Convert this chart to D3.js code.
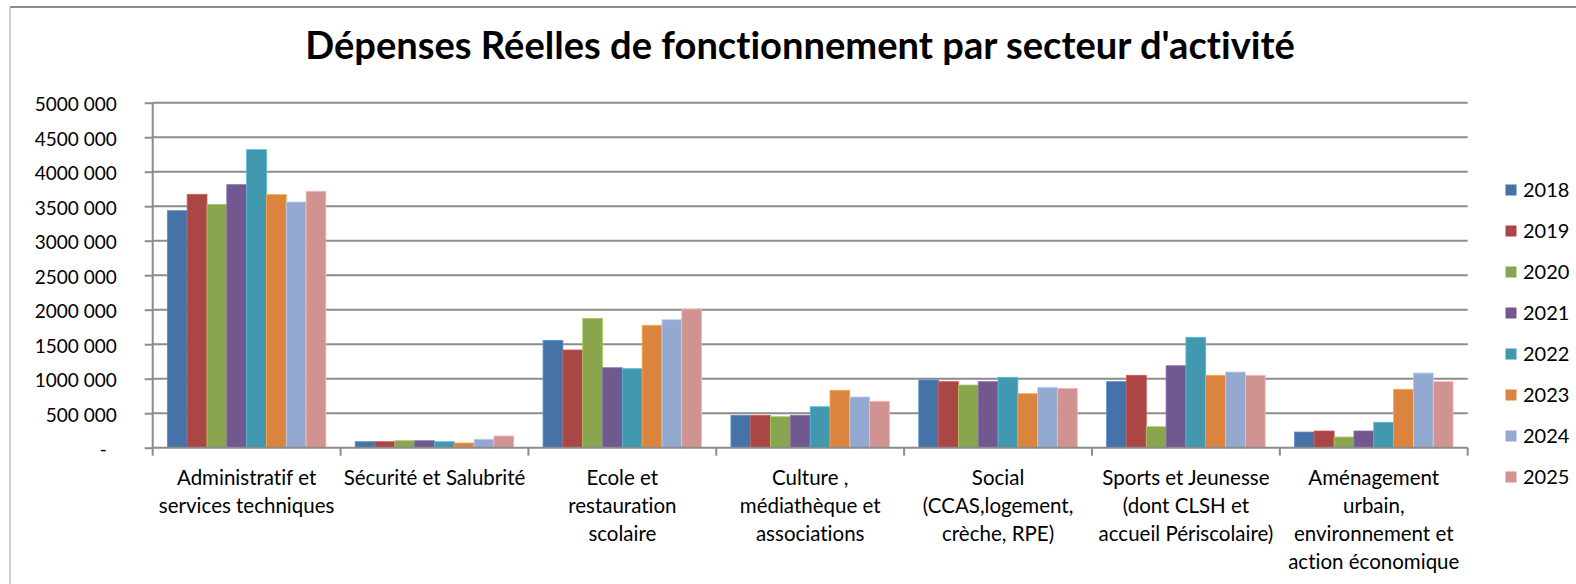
<!DOCTYPE html>
<html><head><meta charset="utf-8">
<script src="https://cdn.jsdelivr.net/npm/d3@7"></script>
<style>
html,body{margin:0;padding:0;background:#fff;}
svg{display:block;font-family:Lato,"Noto Sans",sans-serif;font-variant-ligatures:none;font-feature-settings:"liga" 0,"clig" 0;}
</style></head>
<body>
<svg id="chart" width="1576" height="584"></svg>
<script>
const title = "Dépenses Réelles de fonctionnement par secteur d'activité";
const categories = [
  "Administratif et\nservices techniques",
  "Sécurité et Salubrité",
  "Ecole et\nrestauration\nscolaire",
  "Culture ,\nmédiathèque et\nassociations",
  "Social\n(CCAS,logement,\ncrèche, RPE)",
  "Sports et Jeunesse\n(dont CLSH et\naccueil Périscolaire)",
  "Aménagement\nurbain,\nenvironnement et\naction économique"
];
const years = ["2018","2019","2020","2021","2022","2023","2024","2025"];
const v2018 = [3435000,  87000, 1556000, 469000,  981000,  957000,  227000];
const v2019 = [3672000,  87000, 1416000, 469000,  957000, 1049000,  242000];
const v2020 = [3527000, 101000, 1875000, 449000,  908000,  304000,  155000];
const v2021 = [3812000, 101000, 1159000, 469000,  957000, 1188000,  242000];
const v2022 = [4319000,  87000, 1145000, 594000, 1020000, 1600000,  368000];
const v2023 = [3667000,  68000, 1774000, 832000,  783000, 1049000,  846000];
const v2024 = [3561000, 122000, 1855000, 735000,  875000, 1097000, 1082000];
const v2025 = [3716000, 170000, 2010000, 672000,  860000, 1049000,  957000];
const seriesValues = [v2018, v2019, v2020, v2021, v2022, v2023, v2024, v2025];
const yTickValues = [0,500000,1000000,1500000,2000000,2500000,3000000,3500000,4000000,4500000,5000000];
const yTickLabels = ["-","500 000","1000 000","1500 000","2000 000","2500 000","3000 000","3500 000","4000 000","4500 000","5000 000"];
const colors = ["#4572A7","#AA4643","#89A54E","#71588F","#4198AF","#DB843D","#93A9CF","#D19392"];

(function(){
const svg = d3.select("#chart");
const pLeft = 152.7, pRight = 1467.7, pTop = 102.7, pBottom = 447.7;

// outer border
svg.append("line").attr("x1",10).attr("x2",1576).attr("y1",7).attr("y2",7).attr("stroke","#8c8c8c").attr("stroke-width",2);
svg.append("line").attr("x1",10).attr("x2",10).attr("y1",7).attr("y2",584).attr("stroke","#a0a0a0").attr("stroke-width",1);

// title
const t = svg.append("text").attr("x",800).attr("y",58.5).attr("text-anchor","middle")
  .attr("font-weight","bold").attr("font-size",30).attr("fill","#000").text(title);
const tw = t.node().getComputedTextLength();
t.attr("font-size", 30*990/tw);

const y = d3.scaleLinear().domain([0,5000000]).range([pBottom, pTop]);
const x0 = d3.scaleBand().domain(categories).range([pLeft, pRight]);
const bw = x0.bandwidth();
const gap = bw*1.48/9.48;
const x1 = d3.scaleBand().domain(years).range([gap/2, bw-gap/2]);

// gridlines
svg.append("g").selectAll("line").data(yTickValues.slice(1)).join("line")
  .attr("x1",pLeft).attr("x2",pRight).attr("y1",d=>y(d)).attr("y2",d=>y(d))
  .attr("stroke","#8c8c8c").attr("stroke-width",2);

// bars
const groups = svg.append("g").selectAll("g").data(categories).join("g")
  .attr("transform",c=>`translate(${x0(c)},0)`);
groups.each(function(c,ci){
  d3.select(this).selectAll("rect").data(years).join("rect")
    .attr("x",yr=>x1(yr)).attr("width",x1.bandwidth())
    .attr("y",(yr,i)=>y(seriesValues[i][ci]))
    .attr("height",(yr,i)=>pBottom-y(seriesValues[i][ci]))
    .attr("fill",(yr,i)=>colors[i])
    .attr("stroke",(yr,i)=>d3.color(colors[i]).brighter(0.6))
    .attr("stroke-width",0.8);
});

// y axis
const yAxis = d3.axisLeft(y).tickValues(yTickValues).tickFormat((d,i)=>yTickLabels[i]).tickSize(8).tickPadding(28);
const ya = svg.append("g").attr("transform",`translate(${pLeft},0)`).call(yAxis);
ya.select(".domain").attr("stroke","#8c8c8c").attr("stroke-width",2).attr("d",`M0,${pTop}V${pBottom}`);
ya.selectAll(".tick line").attr("stroke","#8c8c8c").attr("stroke-width",2);
ya.selectAll(".tick text").attr("font-family","Lato").attr("font-size",19).attr("fill","#000").attr("dy","0.42em")
  .attr("dx",(d)=>d===0?-10:0);

// x axis
const xa = svg.append("g");
xa.append("line").attr("x1",pLeft).attr("x2",pRight).attr("y1",pBottom).attr("y2",pBottom).attr("stroke","#8c8c8c").attr("stroke-width",2);
const bounds = categories.map(c=>x0(c)).concat([pRight]);
xa.selectAll("line.tk").data(bounds).join("line").attr("class","tk")
  .attr("x1",d=>d).attr("x2",d=>d).attr("y1",pBottom).attr("y2",pBottom+8)
  .attr("stroke","#8c8c8c").attr("stroke-width",2);
const lbl = xa.selectAll("text").data(categories).join("text")
  .attr("text-anchor","middle").attr("font-size",20.5).attr("fill","#000")
  .attr("transform",c=>`translate(${x0(c)+bw/2},0)`);
lbl.each(function(c){
  const lines = c.split("\n");
  d3.select(this).selectAll("tspan").data(lines).join("tspan")
    .attr("x",0).attr("y",(d,i)=>484.5+i*28).text(d=>d);
});

// legend
const leg = svg.append("g").selectAll("g").data(years).join("g")
  .attr("transform",(d,i)=>`translate(1505.5,${190+i*41})`);
leg.append("rect").attr("x",0).attr("y",-5.5).attr("width",11).attr("height",11).attr("fill",(d,i)=>colors[i]);
leg.append("text").attr("x",17.5).attr("y",0).attr("dy","0.36em").attr("font-size",20).attr("fill","#000").text(d=>d);
})();
</script>
</body></html>
